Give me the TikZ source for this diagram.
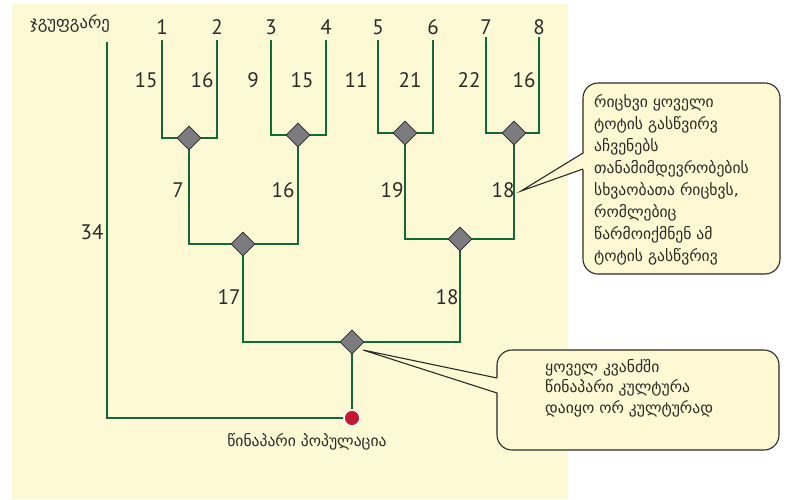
\documentclass[tikz,border=0pt]{standalone}
\usepackage{fontspec}
\setmainfont{DejaVu Sans}
\newfontfamily\numfont{PT Sans}
\usetikzlibrary{shapes.geometric}
\definecolor{paper}{HTML}{FEF9D5}
\definecolor{boxfill}{HTML}{FEF9D2}
\definecolor{treegreen}{HTML}{12683A}
\definecolor{nodegray}{HTML}{7B7B80}
\definecolor{inkdark}{HTML}{2B2A29}
\definecolor{rootred}{HTML}{C4172F}
\begin{document}
\begin{tikzpicture}[x=1pt,y=-1pt,
  branch/.style={draw=treegreen, line width=2.8pt},
  split/.style={diamond, aspect=1, minimum size=24pt, inner sep=0pt,
    fill=nodegray, draw=inkdark, line width=0.8pt},
  rootdot/.style={circle, minimum size=16pt, inner sep=0pt,
    fill=rootred, draw=white, line width=1.6pt},
  num/.style={font=\numfont\fontsize{21}{21}\selectfont, text=inkdark, inner sep=0pt},
  geo/.style={font=\fontsize{15.6}{22}\selectfont, text=inkdark, inner sep=0pt},
  bubble/.style={draw=inkdark, line width=1.1pt, fill=boxfill, rounded corners=15pt},
  pointer/.style={draw=inkdark, line width=1.1pt},
]
% page and the pale panel behind the tree
\useasboundingbox (0,0) rectangle (786,499);
\fill[white] (0,0) rectangle (786,499);
\fill[paper] (12,4) rectangle (568,499);

% leaf tips
\coordinate (l1) at (162,40);
\coordinate (l2) at (217,40);
\coordinate (l3) at (271,40);
\coordinate (l4) at (326,40);
\coordinate (l5) at (378,40);
\coordinate (l6) at (433,40);
\coordinate (l7) at (486,37);
\coordinate (l8) at (539,37);
\coordinate (og) at (107,42);

% branching points
\coordinate (c12) at (189,138);
\coordinate (c34) at (298,135);
\coordinate (c56) at (405,133);
\coordinate (c78) at (514,133);
\coordinate (cL) at (243,244);
\coordinate (cR) at (460,239);
\coordinate (cRoot) at (352,342);
\coordinate (anc) at (352,418);

% branches
\draw[branch] (l1) |- (c12) -| (l2);
\draw[branch] (l3) |- (c34) -| (l4);
\draw[branch] (l5) |- (c56) -| (l6);
\draw[branch] (l7) |- (c78) -| (l8);
\draw[branch] (c12) |- (cL) -| (c34);
\draw[branch] (c56) |- (cR) -| (c78);
\draw[branch] (cL) |- (cRoot) -| (cR);
\draw[branch] (cRoot) -- (anc);
\draw[branch] (og) |- (anc);

% split markers and the ancestral root
\node[split] (d12) at (c12) {};
\node[split] (d34) at (c34) {};
\node[split] (d56) at (c56) {};
\node[split] (d78) at (c78) {};
\node[split] (dL) at (cL) {};
\node[split] (dR) at (cR) {};
\node[split] (dRoot) at (cRoot) {};
\node[rootdot] (root) at (anc) {};

% taxon names
\node[num] (t1) at (162,27) {1};
\node[num] (t2) at (217,27) {2};
\node[num] (t3) at (271,27) {3};
\node[num] (t4) at (326,27) {4};
\node[num] (t5) at (378,27) {5};
\node[num] (t6) at (433,27) {6};
\node[num] (t7) at (486,27) {7};
\node[num] (t8) at (539,27) {8};
\node[geo, anchor=west, font=\fontsize{16.7}{20}\selectfont] (tog) at (30,24) {ჯგუფგარე};

% branch lengths
\node[num] (b1) at (146,80) {15};
\node[num] (b2) at (202,80) {16};
\node[num] (b3) at (253,80) {9};
\node[num] (b4) at (302,80) {15};
\node[num] (b5) at (356,80) {11};
\node[num] (b6) at (410,80) {21};
\node[num] (b7) at (469,80) {22};
\node[num] (b8) at (524,80) {16};
\node[num] (b12) at (178,190) {7};
\node[num] (b34) at (283,190) {16};
\node[num] (b56) at (392,190) {19};
\node[num] (b78) at (503,190) {18};
\node[num] (bL) at (229,297) {17};
\node[num] (bR) at (447,297) {18};
\node[num] (bog) at (92,232) {34};

\node[geo] (ancname) at (307,442) {წინაპარი პოპულაცია};

% callout about branch lengths
\coordinate (tipA) at (521,191);
\path[bubble] (583,83) rectangle (780,274);
\fill[boxfill] (584.5,153) -- (tipA) -- (584.5,169) -- cycle;
\draw[pointer] (583,153) -- (tipA) -- (583,169);
\node[geo, anchor=north west, align=left] (noteA) at (594,94) {რიცხვი ყოველი\\ტოტის გასწვირვ\\აჩვენებს\\თანამიმდევრობების\\სხვაობათა რიცხვს,\\რომლებიც\\წარმოიქმნენ ამ\\ტოტის გასწვრივ};

% callout about the splits
\coordinate (tipB) at (363,350);
\path[bubble] (497,350) rectangle (779,450);
\fill[boxfill] (498.5,378) -- (tipB) -- (498.5,393) -- cycle;
\draw[pointer] (497,378) -- (tipB) -- (497,393);
\node[geo, anchor=north west, align=left, font=\fontsize{15.6}{20.5}\selectfont] (noteB) at (545,359) {ყოველ კვანძში\\წინაპარი კულტურა\\დაიყო ორ კულტურად};
\end{tikzpicture}
\end{document}
